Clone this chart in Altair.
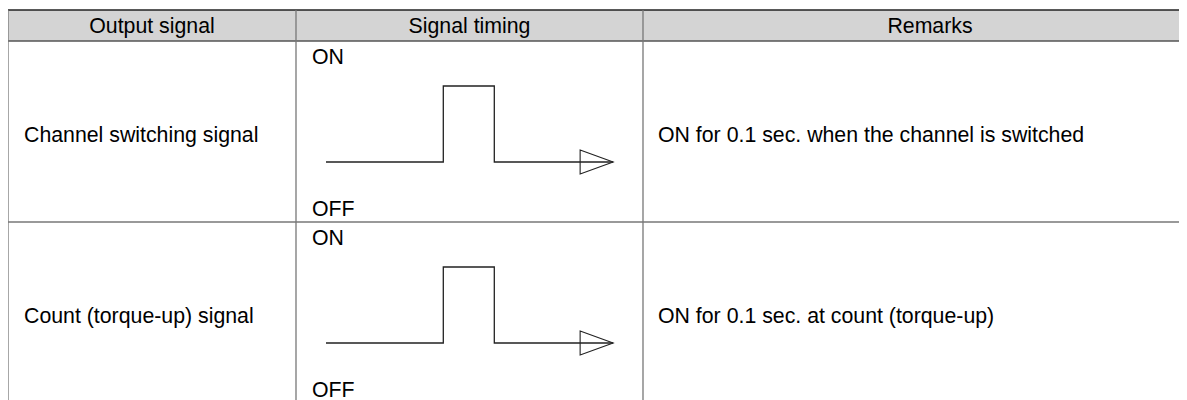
import altair as alt
import pandas as pd

# ---- content ----
header_labels = ["Output signal", "Signal timing", "Remarks"]
signal_names = ["Channel switching signal", "Count (torque-up) signal"]
remark_texts = ["ON for 0.1 sec. when the channel is switched",
                "ON for 0.1 sec. at count (torque-up)"]
state_labels = ["ON", "OFF"]
# waveform: time (s) and logic level
wave_time = [0.0, 0.23, 0.23, 0.33, 0.33, 0.563]
wave_level = [0, 0, 1, 1, 0, 0]

# ---- layout (page pixels) ----
W, H = 1179, 400
col_edges = [8, 296, 643, 1217]
head_top, head_bot = 10, 41
row_h = 181
row_tops = [head_bot + i * row_h for i in range(len(signal_names))]
FONT = "Liberation Sans"
FS = 21.3
px_per_s = 510
wave_x0 = 326
wave_base_off = 121
wave_amp = 76

xs = alt.Scale(domain=[8, W], range=[0, W - 8], zero=False, nice=False)
ys = alt.Scale(domain=[8, H], range=[0, H - 8], zero=False, nice=False)

def X(f, **kw):
    return alt.X(f, type="quantitative", scale=xs, axis=None, **kw)

def Y(f, **kw):
    return alt.Y(f, type="quantitative", scale=ys, axis=None, **kw)

# header background
hdr_bg = pd.DataFrame([{"x": col_edges[0], "x2": col_edges[-1], "y": head_top, "y2": head_bot}])
bg = alt.Chart(hdr_bg).mark_rect(color="#d4d4d4").encode(
    x=X("x"), x2="x2", y=Y("y"), y2="y2")

# grid lines
last = row_tops[-1] + row_h
hl = [{"x": col_edges[0], "x2": col_edges[-1], "y": yv, "y2": yv, "c": c}
      for yv, c in [(head_top, "#222222"), (head_bot, "#555555")] +
      [(rt + row_h, "#777777") for rt in row_tops]]
vl = [{"x": xv, "x2": xv, "y": head_top, "y2": last, "c": "#777777"} for xv in col_edges]
grid = alt.Chart(pd.DataFrame(hl + vl)).mark_rule(strokeWidth=1.3).encode(
    x=X("x"), x2="x2", y=Y("y"), y2="y2", color=alt.Color("c:N", scale=None))

# header text
ht = pd.DataFrame([{"t": t, "x": (col_edges[i] + col_edges[i + 1]) / 2, "y": 27}
                   for i, t in enumerate(header_labels)])
htext = alt.Chart(ht).mark_text(font=FONT, fontSize=FS, color="#000", align="center",
                                baseline="middle").encode(x=X("x"), y=Y("y"), text="t:N")

# body text
bt = []
for i, rt in enumerate(row_tops):
    bt.append({"t": signal_names[i], "x": 24, "y": rt + 95})
    bt.append({"t": remark_texts[i], "x": 658, "y": rt + 95})
    bt.append({"t": state_labels[0], "x": 312, "y": rt + 16.5})
    bt.append({"t": state_labels[1], "x": 312, "y": rt + row_h - 12.5})
btext = alt.Chart(pd.DataFrame(bt)).mark_text(font=FONT, fontSize=FS, color="#000",
                                              align="left", baseline="middle").encode(
    x=X("x"), y=Y("y"), text="t:N")

# waveforms
wv = []
for i, rt in enumerate(row_tops):
    for k, (t, lv) in enumerate(zip(wave_time, wave_level)):
        wv.append({"row": i, "k": k,
                   "x": wave_x0 + t * px_per_s,
                   "y": rt + wave_base_off - lv * wave_amp})
wdf = pd.DataFrame(wv)
wave = alt.Chart(wdf).mark_line(color="#222", strokeWidth=1.3, interpolate="linear").encode(
    x=X("x"), y=Y("y"), detail="row:N", order="k:Q")

arrow_df = wdf[wdf["k"] == len(wave_time) - 1]
arrow = alt.Chart(arrow_df).mark_point(
    shape="M-2,-0.73L0,0L-2,0.73Z", size=1089, filled=False, color="#222",
    strokeWidth=1.1, opacity=1).encode(x=X("x"), y=Y("y"))

chart = alt.layer(bg, grid, htext, btext, wave, arrow).properties(
    width=W - 8, height=H - 8, padding=0, autosize=alt.AutoSizeParams(type="none")
).configure_view(stroke=None)

chart.save("out.html", embed_options={"renderer": "svg", "actions": False})
